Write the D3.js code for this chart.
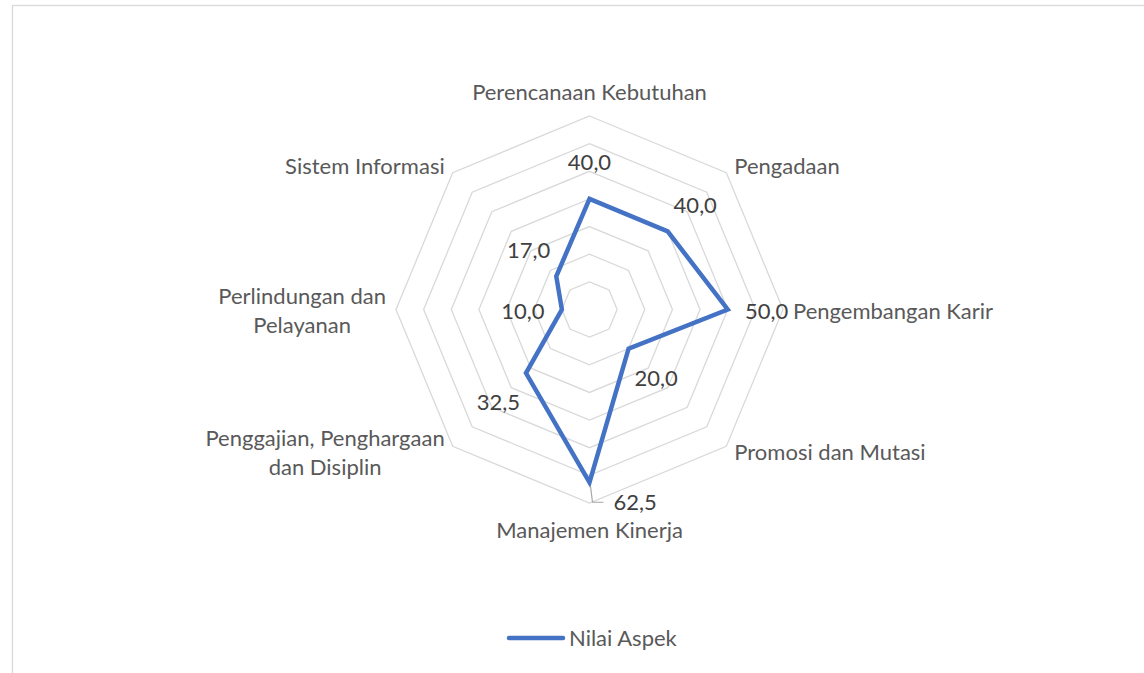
<!DOCTYPE html>
<html>
<head>
<meta charset="utf-8">
<script src="https://cdn.jsdelivr.net/npm/d3@7"></script>
<style>
  body { margin: 0; background: #fff; }
  svg { display: block; font-family: Lato, "Open Sans", sans-serif; }
</style>
</head>
<body>
<svg id="chart" width="1144" height="673"></svg>
<script>
// axes, clockwise from the top (line breaks as the labels wrap in the chart)
const categories = [
    "Perencanaan Kebutuhan",
    "Pengadaan",
    "Pengembangan Karir",
    "Promosi dan Mutasi",
    "Manajemen Kinerja",
    "Penggajian, Penghargaan\ndan Disiplin",
    "Perlindungan dan\nPelayanan",
    "Sistem Informasi"
];
const seriesName = "Nilai Aspek";
const values = [40, 40, 50, 20, 62.5, 32.5, 10, 17];
const ringTicks = [10, 20, 30, 40, 50, 60, 70];

const width = 1144,
    height = 673;
const cx = 589.5,
    cy = 309.5,
    radius = 193.5;
const fontSize = 22;

const svg = d3.select("#chart");

// light frame of the chart area (right and bottom edges fall outside the picture)
svg.append("rect")
    .attr("x", 12.5).attr("y", 5.5)
    .attr("width", width + 20).attr("height", height + 20)
    .attr("fill", "none")
    .attr("stroke", "#d9d9d9")
    .attr("stroke-width", 1.3);

const r = d3.scaleLinear().domain([0, d3.max(ringTicks)]).range([0, radius]);
const angle = d3.scaleLinear().domain([0, categories.length]).range([0, 2 * Math.PI]);

const g = svg.append("g").attr("transform", `translate(${cx},${cy})`);

// octagon grid rings
g.selectAll(".ring")
    .data(ringTicks)
    .join("path")
    .attr("class", "ring")
    .attr("d", t => d3.lineRadial()
        .angle((d, i) => angle(i))
        .radius(r(t))
        .curve(d3.curveLinearClosed)(categories))
    .attr("fill", "none")
    .attr("stroke", "#d9d9d9")
    .attr("stroke-width", 1.3);

// the series
const seriesLine = d3.lineRadial()
    .angle((d, i) => angle(i))
    .radius(d => r(d))
    .curve(d3.curveLinearClosed);

g.append("path")
    .attr("d", seriesLine(values))
    .attr("fill", "none")
    .attr("stroke", "#4472c4")
    .attr("stroke-width", 4.5)
    .attr("stroke-linejoin", "miter");

// value labels, decimal comma
const fmt = d3.formatLocale({ decimal: ",", thousands: ".", grouping: [3], currency: ["", ""] }).format(".1f");
const pos = (v, i) => [r(v) * Math.sin(angle(i)), -r(v) * Math.cos(angle(i))];
const bottomIdx = categories.length / 2; // this one gets pushed aside with a leader line

values.forEach((v, i) => {
    const [px, py] = pos(v, i);
    const a = angle(i);
    if (i === bottomIdx) {
        g.append("path")
            .attr("d", `M${px + 1},${py + 4}L${px + 3},${py + 20}L${px + 14},${py + 20}`)
            .attr("fill", "none")
            .attr("stroke", "#a6a6a6")
            .attr("stroke-width", 1.2);
        g.append("text")
            .attr("x", px + 24).attr("y", py + 20)
            .attr("dy", "0.35em")
            .attr("fill", "#404040")
            .style("font-size", fontSize + "px")
            .text(fmt(v));
        return;
    }
    g.append("text")
        .attr("x", px + 39 * Math.sin(a))
        .attr("y", py - 39 * Math.cos(a) + 2)
        .attr("dy", "0.35em")
        .attr("text-anchor", "middle")
        .attr("fill", "#404040")
        .style("font-size", fontSize + "px")
        .text(fmt(v));
});

// category labels next to the outer vertices
categories.forEach((name, i) => {
    const a = angle(i);
    const s = Math.sin(a), c = Math.cos(a);
    const vx = radius * s, vy = -radius * c;
    const lines = name.split("\n");
    let x = vx, y;
    if (Math.abs(s) < 0.01) {
        y = vy - c * (c > 0 ? 24 : 27);
    } else if (Math.abs(c) < 0.01) {
        x = vx + Math.sign(s) * 10;
        y = vy + 1.5;
    } else {
        x = vx + Math.sign(s) * 8;
        y = vy - c * 9;
    }
    const block = g.append("g");
    const texts = block.selectAll("text")
        .data(lines)
        .join("text")
        .attr("y", (d, k) => y + (k - (lines.length - 1) / 2) * 29)
        .attr("dy", "0.35em")
        .attr("text-anchor", "middle")
        .attr("fill", "#595959")
        .style("font-size", fontSize + "px")
        .text(d => d);
    // lines are centred on each other, the block sits beside the vertex
    const w = d3.max(texts.nodes(), n => n.getComputedTextLength());
    const mid = Math.abs(s) < 0.01 ? x : x + Math.sign(s) * w / 2;
    texts.attr("x", mid);
});

// legend
const legend = svg.append("g").attr("transform", "translate(509,638)");
legend.append("line")
    .attr("x1", 0).attr("x2", 54)
    .attr("stroke", "#4472c4")
    .attr("stroke-width", 4.5)
    .attr("stroke-linecap", "round");
legend.append("text")
    .attr("x", 60)
    .attr("dy", "0.35em")
    .attr("fill", "#595959")
    .style("font-size", fontSize + "px")
    .text(seriesName);
</script>
</body>
</html>
